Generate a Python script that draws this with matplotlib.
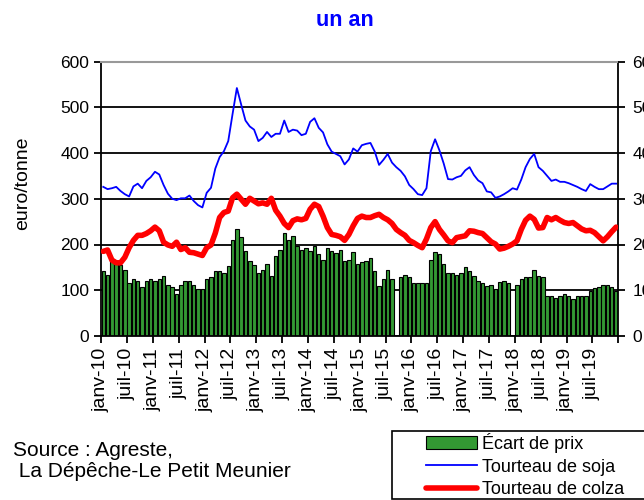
import matplotlib.pyplot as plt
import numpy as np
from matplotlib.patches import Rectangle

plt.rcParams['font.family'] = ['Liberation Sans', 'DejaVu Sans']

nan = np.nan

# écart de prix (euro/tonne), mensuel janv-10 -> déc-19
ecart = [142, 134, 166, 164, 156, 145, 116, 125, 121, 108, 121, 125, 121, 125, 132,
         112, 108, 92, 112, 121, 121, 112, 103, 103, 125, 129, 141, 141, 138, 154,
         209, 233, 217, 186, 163, 156, 138, 145, 158, 132, 174, 188, 225, 209, 218,
         196, 188, 192, 185, 196, 179, 167, 192, 185, 182, 188, 164, 167, 183, 158,
         161, 163, 170, 141, 109, 125, 145, 124, nan, 129, 134, 129, 116, 116, 116,
         116, 166, 183, 179, 158, 138, 138, 134, 138, 150, 141, 131, 121, 116, 109,
         112, 103, 118, 121, 116, nan, 112, 124, 129, 129, 145, 132, 129, 87, 87,
         83, 87, 92, 87, 80, 87, 87, 87, 99, 105, 108, 112, 112, 108, 99]

soja = [326, 321, 323, 326, 317, 310, 305, 327, 333, 323, 339, 347, 359, 353, 330,
        311, 300, 297, 301, 301, 307, 295, 286, 281, 313, 324, 366, 391, 404, 426,
        485, 542, 506, 471, 458, 451, 426, 433, 446, 435, 442, 442, 471, 446, 451,
        449, 439, 442, 468, 476, 455, 445, 419, 403, 398, 393, 375, 386, 410, 403,
        417, 420, 422, 403, 374, 385, 398, 379, 369, 361, 349, 330, 321, 310, 308,
        323, 404, 430, 406, 377, 343, 342, 347, 350, 362, 369, 352, 340, 334, 316,
        314, 302, 305, 310, 316, 323, 320, 342, 369, 387, 398, 369, 361, 350, 339,
        342, 337, 337, 334, 330, 326, 321, 317, 332, 326, 321, 321, 327, 333, 333]

colza = [185, 188, 166, 160, 160, 172, 193, 209, 220, 220, 224, 230, 238, 230, 205,
         199, 196, 205, 189, 193, 183, 182, 179, 176, 193, 199, 225, 259, 270, 273,
         302, 310, 299, 288, 301, 295, 289, 291, 288, 301, 275, 262, 246, 237, 252,
         256, 254, 257, 277, 288, 283, 262, 237, 222, 220, 217, 209, 222, 241, 257,
         262, 259, 259, 263, 266, 259, 254, 246, 233, 226, 220, 209, 204, 198, 193,
         212, 237, 250, 233, 221, 208, 204, 215, 217, 219, 230, 229, 226, 224, 215,
         206, 201, 190, 192, 196, 201, 208, 233, 253, 262, 255, 236, 237, 259, 254,
         259, 253, 248, 246, 248, 241, 234, 230, 231, 226, 217, 208, 217, 228, 238]

tick_labels = ['janv-10', 'juil-10', 'janv-11', 'juil-11', 'janv-12', 'juil-12',
               'janv-13', 'juil-13', 'janv-14', 'juil-14', 'janv-15', 'juil-15',
               'janv-16', 'juil-16', 'janv-17', 'juil-17', 'janv-18', 'juil-18',
               'janv-19', 'juil-19', '']

x = np.arange(len(soja)) + 0.5

fig = plt.figure(figsize=(6.44, 5), dpi=100)
ax = fig.add_axes([0.157, 0.328, 0.803, 0.549])

ax.bar(x, ecart, width=0.8, color='#339933', edgecolor='black', linewidth=0.8,
       zorder=2, label='Écart de prix')
ax.plot(x, soja, color='#0000ff', lw=1.3, zorder=3, label='Tourteau de soja')
ax.plot(x, colza, color='#ff0000', lw=4, zorder=3, solid_capstyle='round',
        solid_joinstyle='round', label='Tourteau de colza')

ax.set_xlim(0, 120)
ax.set_ylim(0, 600)
ax.set_yticks(range(0, 601, 100))
ax.set_xticks(range(0, 121, 6))
ax.set_xticklabels(tick_labels, rotation=90)
ax.yaxis.grid(True, color='black', lw=1.3)
ax.set_axisbelow(True)
ax.tick_params(direction='out', length=5, width=1.3, labelsize=12.5, color='black')
ax.tick_params(axis='x', labelsize=14)
ax.set_ylabel('euro/tonne', fontsize=14)
ax.yaxis.set_label_coords(-0.135, 0.558)

for s in ['left', 'bottom', 'right']:
    ax.spines[s].set_linewidth(1.3)
    ax.spines[s].set_color('black')
ax.spines['top'].set_color('#999999')
ax.spines['top'].set_linewidth(1.5)

ax2 = ax.twinx()
ax2.set_ylim(0, 600)
ax2.set_yticks(range(0, 601, 100))
ax2.tick_params(direction='out', length=5, width=1.3, labelsize=12.5, pad=5)
for s in ax2.spines.values():
    s.set_visible(False)

fig.text(0.536, 0.958, 'un an', color='#0000ff', weight='bold', fontsize=15.5,
         ha='center', va='center')

fig.text(0.02, 0.078, 'Source : Agreste,\n La Dépêche-Le Petit Meunier',
         fontsize=15, va='center', ha='left', linespacing=1.1)

fig.patches.append(Rectangle((392 / 644, 1.5 / 500), 0.6, 67.5 / 500,
                             transform=fig.transFigure, facecolor='white',
                             edgecolor='black', lw=1.2))
handles, labels = ax.get_legend_handles_labels()
order = [2, 0, 1]
fig.legend([handles[i] for i in order], [labels[i] for i in order],
           loc='upper left', bbox_to_anchor=(0.645, 0.156), frameon=False,
           fontsize=13, handlelength=2.8, handletextpad=0.3,
           labelspacing=0.32, borderpad=0.1)

fig.savefig('out.png', dpi=100)
